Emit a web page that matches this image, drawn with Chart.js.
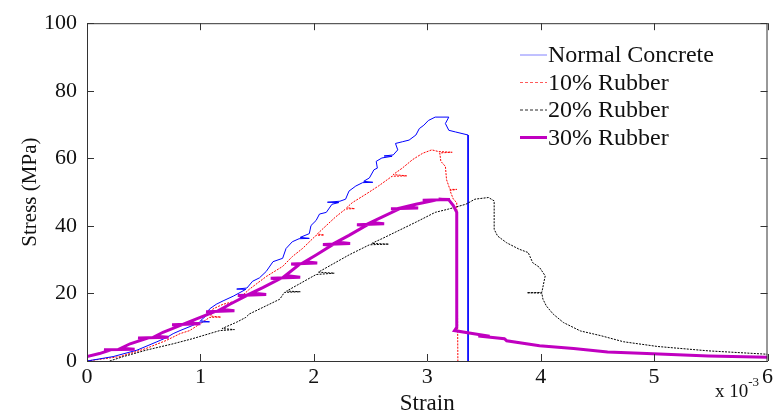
<!DOCTYPE html>
<html>
<head>
<meta charset="utf-8">
<script src="https://cdn.jsdelivr.net/npm/chart.js@4/dist/chart.umd.min.js"></script>
<style>
html,body{margin:0;padding:0;background:#fff;}
#wrap{width:776px;height:419px;}
</style>
</head>
<body>
<div id="wrap"><canvas id="c" width="776" height="419"></canvas></div>
<script>
// ---- data (strain in units of 10^-3, stress in MPa) ----
const seriesLabels = ["Normal Concrete", "10% Rubber", "20% Rubber", "30% Rubber"];
const xTickLabels = ["0","1","2","3","4","5","6"];
const yTickLabels = ["0","20","40","60","80","100"];

const ncStrain = [0,0.23,0.44,0.61,0.70,0.76,0.82,0.93,0.99,1.08,1.0,1.05,1.08,1.14,1.20,1.29,1.40,1.32,1.41,1.46,1.52,1.58,1.64,1.725,1.755,1.81,1.87,1.96,1.88,1.96,1.975,2.02,2.05,2.11,2.16,2.22,2.12,2.23,2.28,2.31,2.37,2.43,2.52,2.44,2.49,2.53,2.56,2.55,2.60,2.69,2.62,2.70,2.74,2.72,2.78,2.84,2.90,2.93,2.97,3.01,3.07,3.19,3.16,3.19,3.25,3.36,3.36];
const ncStress = [0,1.3,3.2,5.6,6.9,8.1,9.0,10.5,11.5,11.6,11.9,13.4,15.4,16.8,17.8,19.2,21.2,21.3,21.6,23.6,24.6,26.5,29.4,30.4,33.3,35.3,36.2,36.3,36.6,37.7,40.1,41.6,43.5,44.0,46.4,46.9,47.0,47.3,47.9,50.3,51.8,52.8,52.9,53.2,54.2,56.6,57.1,59.1,60.1,60.6,60.7,61.0,62.5,64.4,64.9,65.4,66.9,68.8,69.8,71.2,72.2,72.2,70.3,68.3,67.8,66.9,0];

const r10Strain = [0,0.29,0.52,0.70,0.82,0.905,1.02,1.08,1.18,1.09,1.11,1.20,1.32,1.43,1.58,1.725,1.81,1.90,2.02,2.09,2.03,2.11,2.19,2.28,2.36,2.29,2.34,2.46,2.57,2.69,2.82,2.70,2.78,2.87,2.96,3.04,3.10,3.22,3.11,3.12,3.16,3.17,3.20,3.26,3.20,3.23,3.26,3.27];
const r10Stress = [0,1.3,3.7,6.1,8.1,9.0,11.5,12.9,13.0,13.3,15.4,16.8,17.8,21.2,25.0,28.0,30.9,33.3,37.2,37.3,37.6,40.1,42.6,45.0,45.1,45.4,46.9,49.4,51.8,54.7,54.8,55.2,57.1,59.6,61.5,62.5,62.0,61.8,61.6,59.1,57.6,53.7,50.8,50.8,50.5,47.9,46.9,0];

const r20Strain = [0.2,0.32,0.52,0.76,0.93,1.17,1.3,1.19,1.32,1.40,1.43,1.70,1.74,1.88,1.76,2.02,2.18,2.04,2.31,2.49,2.66,2.51,2.60,2.90,3.07,3.19,3.34,3.42,3.54,3.59,3.59,3.62,3.70,3.81,3.89,3.93,3.99,4.04,4.01,3.88,4.01,4.02,4.05,4.11,4.20,4.35,4.53,4.73,5.03,5.48,6.0];
const r20Stress = [0,1.3,3.2,5.1,6.6,9.0,9.3,9.6,11.5,12.9,13.9,18.3,20.3,20.5,20.7,25.6,26.0,26.3,31.4,34.4,34.6,34.8,36.2,41.1,44.0,45.0,46.4,47.9,48.4,47.4,39.0,37.0,35.0,33.1,32.1,29.1,27.7,25.2,20.3,20.2,20.1,18.3,16.3,13.9,11.4,8.9,7.5,5.7,4.3,3.0,2.0];

const r30Strain = [0,0.11,0.2,0.15,0.42,0.3,0.38,0.52,0.45,0.72,0.6,0.67,0.82,0.75,1.0,0.88,0.96,1.11,1.05,1.3,1.18,1.26,1.40,1.33,1.58,1.45,1.55,1.70,1.62,1.88,1.75,1.87,1.8,2.03,1.92,2.02,2.16,2.08,2.32,2.2,2.31,2.46,2.38,2.62,2.5,2.60,2.75,2.68,2.92,2.8,2.90,3.04,2.96,3.2,3.1,3.19,3.23,3.26,3.26,3.24,3.37,3.55,3.45,3.68,3.70,3.99,4.29,4.59,4.88,5.48,6.0];
const r30Stress = [1.3,2.2,3.2,3.3,3.5,3.8,5.1,6.6,6.8,7.0,7.3,8.5,10.5,10.7,11.0,11.3,12.4,14.4,14.6,14.9,15.3,16.8,19.2,19.4,19.7,20.1,21.7,24.3,24.5,24.8,25.3,28.5,28.7,29.0,29.4,31.4,34.3,34.5,34.8,35.2,37.2,40.1,40.3,40.6,41.0,42.6,45.0,45.1,45.3,45.6,46.4,47.4,47.6,47.8,47.9,47.7,46.0,44.0,10.0,9.0,8.3,7.3,7.4,6.6,6.0,4.5,3.7,2.7,2.3,1.5,1.1];

const xs = [ncStrain, r10Strain, r20Strain, r30Strain];
const ys = [ncStress, r10Stress, r20Stress, r30Stress];

// ---- styles ----
const colors = ["rgb(0,0,255)", "rgb(255,0,0)", "rgb(0,0,0)", "rgb(192,0,192)"];
const legendColors = ["rgb(130,130,255)", "rgb(255,90,90)", "rgb(40,40,40)", "rgb(192,0,192)"];
const widths = [1, 1, 1, 3];
const dashes = [[], [2,1.2], [2,1.2], []];
const legendDashes = [[], [3,2], [3,2], []];
const drawOrder = [2, 3, 1, 0];
const FONT = "'Liberation Serif', 'Times New Roman', serif";

const datasets = seriesLabels.map((lab, i) => ({
  label: lab,
  data: xs[i].map((x, k) => ({x: x, y: ys[i][k]})),
  borderColor: colors[i],
  backgroundColor: colors[i],
  borderWidth: widths[i],
  borderDash: dashes[i],
  pointRadius: 0,
  showLine: true,
  fill: false,
  tension: 0,
  order: drawOrder[i]
}));

const framePlugin = {
  id: 'frame',
  afterDraw(chart) {
    const ctx = chart.ctx;
    const a = chart.chartArea;
    const xS = chart.scales.x, yS = chart.scales.y;
    ctx.save();
    ctx.strokeStyle = '#333';
    ctx.lineWidth = 1;
    ctx.beginPath();
    ctx.moveTo(a.left, a.top + 0.5); ctx.lineTo(a.right, a.top + 0.5);
    ctx.moveTo(a.right - 0.5, a.top); ctx.lineTo(a.right - 0.5, a.bottom);
    const tl = 7;
    xS.ticks.forEach(t => {
      const px = Math.round(xS.getPixelForValue(t.value)) + 0.5;
      ctx.moveTo(px, a.bottom); ctx.lineTo(px, a.bottom - tl);
      ctx.moveTo(px, a.top); ctx.lineTo(px, a.top + tl);
    });
    yS.ticks.forEach(t => {
      const py = Math.round(yS.getPixelForValue(t.value)) + 0.5;
      ctx.moveTo(a.left, py); ctx.lineTo(a.left + tl, py);
      ctx.moveTo(a.right, py); ctx.lineTo(a.right - tl, py);
    });
    ctx.stroke();

    // legend
    const lx0 = 520, lx1 = 547, tx = 548, ly0 = 55, dy = 27.5;
    ctx.font = "24px " + FONT;
    ctx.textBaseline = 'middle';
    ctx.textAlign = 'left';
    seriesLabels.forEach((lab, i) => {
      const y = ly0 + i * dy;
      ctx.beginPath();
      ctx.setLineDash(legendDashes[i]);
      ctx.strokeStyle = legendColors[i];
      ctx.lineWidth = widths[i];
      ctx.moveTo(lx0, y); ctx.lineTo(lx1, y);
      ctx.stroke();
      ctx.setLineDash([]);
      ctx.fillStyle = '#111';
      ctx.fillText(lab, tx, y + 1);
    });

    // exponent label
    ctx.fillStyle = '#111';
    ctx.textBaseline = 'alphabetic';
    ctx.font = "19px " + FONT;
    ctx.fillText("x 10", 715, 397);
    const w = ctx.measureText("x 10").width;
    ctx.font = "13px " + FONT;
    ctx.fillText("-3", 715 + w, 386);
    ctx.restore();
  }
};

new Chart(document.getElementById('c'), {
  type: 'scatter',
  data: { datasets: datasets },
  options: {
    responsive: false,
    animation: false,
    devicePixelRatio: 1,
    layout: { padding: { top: 18, right: 6, left: 0, bottom: 0 } },
    plugins: { legend: { display: false }, tooltip: { enabled: false } },
    scales: {
      x: {
        type: 'linear', min: 0, max: 6,
        afterFit(s) { s.height = 58; },
        ticks: {
          stepSize: 1, color: '#111', padding: 3,
          font: { family: FONT, size: 22 },
          callback: (v) => xTickLabels[Math.round(v)]
        },
        grid: { display: true, drawOnChartArea: false, drawTicks: false },
        border: { display: true, color: '#333', width: 1 },
        title: { display: true, text: 'Strain', color: '#111', font: { family: FONT, size: 23 }, padding: { top: 0, bottom: 1 } }
      },
      y: {
        type: 'linear', min: 0, max: 100,
        afterFit(s) { s.width = 87; },
        ticks: {
          stepSize: 20, color: '#111', padding: 10,
          font: { family: FONT, size: 22 },
          callback: (v) => yTickLabels[Math.round(v / 20)]
        },
        grid: { display: true, drawOnChartArea: false, drawTicks: false },
        border: { display: true, color: '#333', width: 1 },
        title: { display: true, text: 'Stress (MPa)', color: '#111', font: { family: FONT, size: 21 }, padding: { top: 18, bottom: 0 } }
      }
    }
  },
  plugins: [framePlugin]
});
</script>
</body>
</html>
